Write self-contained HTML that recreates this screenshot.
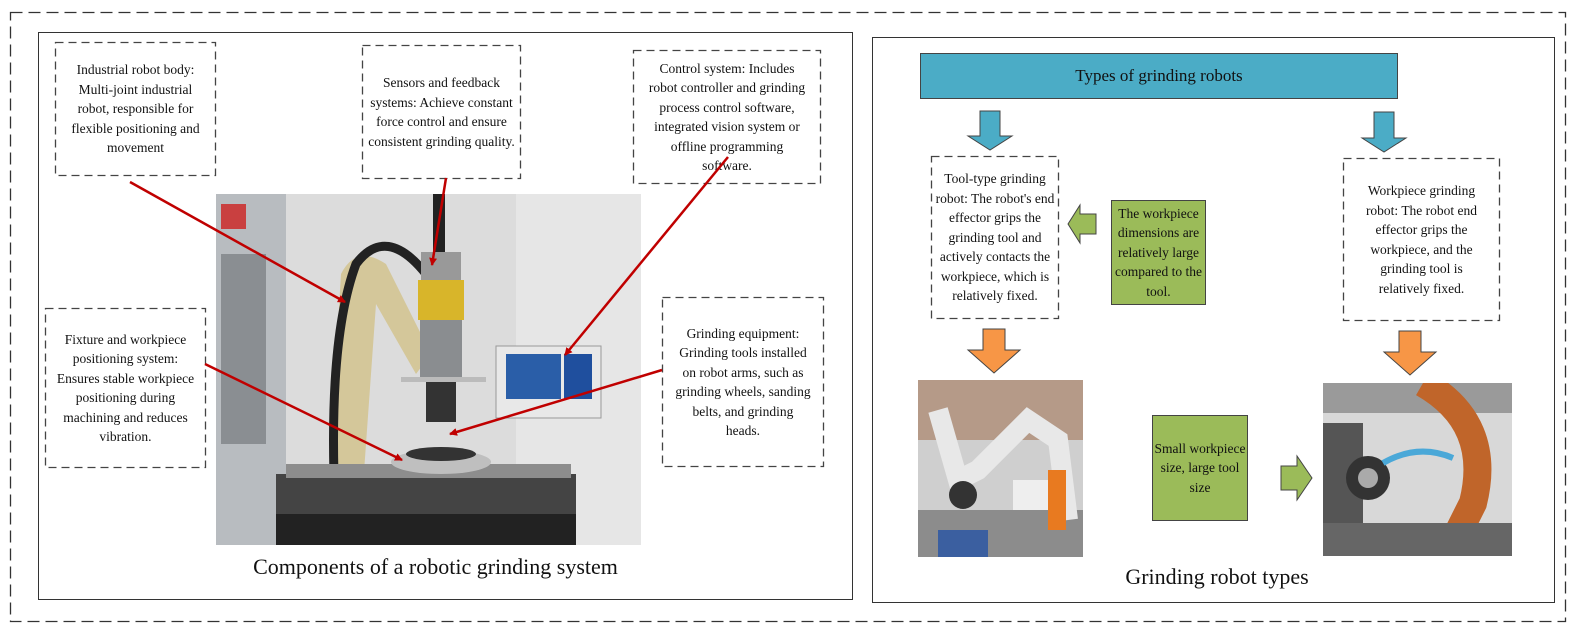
<!DOCTYPE html>
<html><head><meta charset="utf-8"><style>
body{margin:0;width:1576px;height:635px;background:#fff;position:relative;overflow:hidden;font-family:"Liberation Serif",serif;color:#111}
.a{position:absolute;box-sizing:border-box}
.d{display:flex;align-items:center;justify-content:center;text-align:center;font-size:13.5px;line-height:19.5px;white-space:nowrap}
.g{background:#9bbb59;border:1.3px solid #444;display:flex;align-items:center;justify-content:center;text-align:center;font-size:13.5px;line-height:19.5px;white-space:nowrap}
</style></head><body>
<div class="a" style="left:38px;top:32px;width:815px;height:568px;border:1px solid #333"></div>
<div class="a" style="left:872px;top:37px;width:683px;height:566px;border:1px solid #333"></div>

<!-- left photo -->
<svg class="a" style="left:216px;top:194px" width="425" height="351" viewBox="0 0 425 351">
<rect width="425" height="351" fill="#dcdcdc"/>
<rect x="0" y="0" width="70" height="351" fill="#b8bcc0"/>
<rect x="5" y="60" width="45" height="190" fill="#8a8e92"/>
<rect x="5" y="10" width="25" height="25" fill="#c94040"/>
<rect x="300" y="0" width="125" height="351" fill="#e6e6e6"/>
<path d="M110 330 L125 80 Q140 50 170 70 L215 160 L200 180 L160 110 L145 320 Z" fill="#d4c79a"/>
<path d="M120 330 Q110 150 140 70 Q170 30 210 80" stroke="#222" stroke-width="9" fill="none"/>
<rect x="217" y="0" width="12" height="60" fill="#222"/>
<rect x="205" y="58" width="40" height="30" fill="#999"/>
<rect x="202" y="86" width="46" height="40" fill="#d8b52a"/>
<rect x="204" y="126" width="42" height="60" fill="#8a8d90"/>
<rect x="185" y="183" width="85" height="5" fill="#bbb"/>
<rect x="210" y="188" width="30" height="40" fill="#333"/>
<rect x="280" y="152" width="105" height="72" fill="#e8e8e8" stroke="#999"/>
<rect x="290" y="160" width="55" height="45" fill="#2a5ea8"/>
<rect x="348" y="160" width="28" height="45" fill="#1f4f9e"/>
<rect x="60" y="280" width="300" height="40" fill="#444"/>
<rect x="70" y="270" width="285" height="14" fill="#8d8d8d"/>
<ellipse cx="225" cy="268" rx="50" ry="12" fill="#bfbfbf"/>
<ellipse cx="225" cy="260" rx="35" ry="7" fill="#333"/>
<rect x="60" y="320" width="300" height="31" fill="#222"/>
</svg>

<!-- right photos -->
<svg class="a" style="left:918px;top:380px" width="165" height="177" viewBox="0 0 165 177">
<rect width="165" height="177" fill="#cfcfcf"/>
<rect x="0" y="0" width="165" height="60" fill="#b59a88"/>
<rect x="0" y="130" width="165" height="47" fill="#8c8c8c"/>
<path d="M20 30 L40 100 L60 90 L110 40 L140 60 L150 140" stroke="#e8e8e8" stroke-width="20" fill="none"/>
<rect x="130" y="90" width="18" height="60" fill="#e87a20"/>
<circle cx="45" cy="115" r="14" fill="#333"/>
<rect x="95" y="100" width="35" height="30" fill="#eee"/>
<rect x="20" y="150" width="50" height="27" fill="#3b5fa0"/>
</svg>
<svg class="a" style="left:1323px;top:383px" width="189" height="173" viewBox="0 0 189 173">
<rect width="189" height="173" fill="#d8d8d8"/>
<rect x="0" y="0" width="189" height="30" fill="#9a9a9a"/>
<rect x="0" y="40" width="40" height="133" fill="#555"/>
<path d="M100 0 Q170 40 150 120 L130 160" stroke="#c0652a" stroke-width="28" fill="none"/>
<circle cx="45" cy="95" r="22" fill="#333"/>
<circle cx="45" cy="95" r="10" fill="#aaa"/>
<path d="M60 80 Q95 60 130 75" stroke="#4aa8d8" stroke-width="6" fill="none"/>
<rect x="0" y="140" width="189" height="33" fill="#666"/>
</svg>

<!-- left boxes -->
<div class="a d" style="left:55px;top:42px;width:161px;height:134px">Industrial robot body:<br>Multi-joint industrial<br>robot, responsible for<br>flexible positioning and<br>movement</div>
<div class="a d" style="left:362px;top:45px;width:159px;height:134px">Sensors and feedback<br>systems: Achieve constant<br>force control and ensure<br>consistent grinding quality.</div>
<div class="a d" style="left:633px;top:50px;width:188px;height:134px">Control system: Includes<br>robot controller and grinding<br>process control software,<br>integrated vision system or<br>offline programming<br>software.</div>
<div class="a d" style="left:45px;top:308px;width:161px;height:160px">Fixture and workpiece<br>positioning system:<br>Ensures stable workpiece<br>positioning during<br>machining and reduces<br>vibration.</div>
<div class="a d" style="left:662px;top:297px;width:162px;height:170px">Grinding equipment:<br>Grinding tools installed<br>on robot arms, such as<br>grinding wheels, sanding<br>belts, and grinding<br>heads.</div>
<div class="a" style="left:38px;top:554px;width:795px;text-align:center;font-size:22px">Components of a robotic grinding system</div>

<!-- right -->
<div class="a" style="left:920px;top:53px;width:478px;height:46px;background:#4bacc6;border:1.3px solid #444;display:flex;align-items:center;justify-content:center;font-size:17px">Types of grinding robots</div>
<div class="a d" style="left:931px;top:156px;width:128px;height:163px">Tool-type grinding<br>robot: The robot's end<br>effector grips the<br>grinding tool and<br>actively contacts the<br>workpiece, which is<br>relatively fixed.</div>
<div class="a d" style="left:1343px;top:158px;width:157px;height:163px">Workpiece grinding<br>robot: The robot end<br>effector grips the<br>workpiece, and the<br>grinding tool is<br>relatively fixed.</div>
<div class="a g" style="left:1111px;top:200px;width:95px;height:105px">The workpiece<br>dimensions are<br>relatively large<br>compared to the<br>tool.</div>
<div class="a g" style="left:1152px;top:415px;width:96px;height:106px">Small workpiece<br>size, large tool<br>size</div>
<div class="a" style="left:872px;top:564px;width:690px;text-align:center;font-size:22px">Grinding robot types</div>

<svg class="a" style="left:0;top:0" width="1576" height="635">
<defs><marker id="r" markerWidth="8" markerHeight="8" refX="7" refY="4" orient="auto" markerUnits="userSpaceOnUse" viewBox="0 0 8 8"><path d="M0 0 L8 4 L0 8 Z" fill="#c00000"/></marker></defs>
<rect x="10.5" y="12.5" width="1555" height="609" fill="none" stroke="#333" stroke-width="1.3" stroke-dasharray="12 6"/>
<g fill="none" stroke="#444" stroke-width="1.3" stroke-dasharray="8 5">
<rect x="55.5" y="42.5" width="160" height="133"/>
<rect x="362.5" y="45.5" width="158" height="133"/>
<rect x="633.5" y="50.5" width="187" height="133"/>
<rect x="45.5" y="308.5" width="160" height="159"/>
<rect x="662.5" y="297.5" width="161" height="169"/>
<rect x="931.5" y="156.5" width="127" height="162"/>
<rect x="1343.5" y="158.5" width="156" height="162"/>
</g>
<g stroke="#c00000" stroke-width="2.5" fill="none" marker-end="url(#r)">
<line x1="130" y1="182" x2="345" y2="302"/>
<line x1="446" y1="178" x2="432" y2="265"/>
<line x1="728" y1="157" x2="565" y2="355"/>
<line x1="205" y1="364" x2="402" y2="460"/>
<line x1="662" y1="370" x2="450" y2="434"/>
</g>
<g stroke="#444" stroke-width="1">
<path d="M980 111 H1000 V136 H1012 L990 150 L968 136 H980 Z" fill="#4bacc6"/>
<path d="M1374 112 H1394 V138 H1406 L1384 152 L1362 138 H1374 Z" fill="#4bacc6"/>
<path d="M1096 214 H1080 V205 L1068 224 L1080 243 V234 H1096 Z" fill="#9bbb59"/>
<path d="M1281 466 H1297 V456 L1312 478 L1297 500 V490 H1281 Z" fill="#9bbb59"/>
<path d="M983 329 H1005 V350 H1020 L994 373 L968 350 H983 Z" fill="#f79646"/>
<path d="M1399 331 H1421 V352 H1436 L1410 375 L1384 352 H1399 Z" fill="#f79646"/>
</g>
</svg>
</body></html>
